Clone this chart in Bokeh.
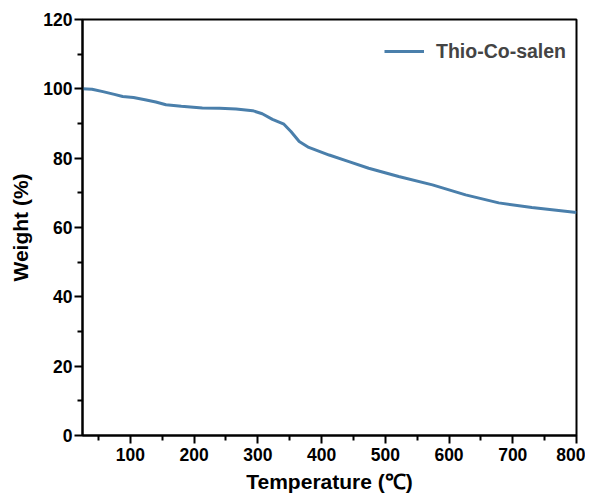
from bokeh.plotting import figure
from bokeh.embed import file_html
from bokeh.resources import INLINE
from bokeh.models import Range1d, FixedTicker, Legend, LegendItem

temperature = [25, 40, 57, 75, 88, 105, 125, 140, 156, 180, 213, 240, 266, 292, 307, 323,
               341, 352, 365, 380, 412, 443, 474, 521, 574, 626, 678, 730, 800]
weight = [100, 99.9, 99.2, 98.4, 97.8, 97.5, 96.8, 96.2, 95.4, 95.0, 94.5, 94.4, 94.2, 93.7, 92.8, 91.2,
          89.8, 87.7, 84.8, 83.1, 80.9, 79.0, 77.1, 74.7, 72.3, 69.4, 67.1, 65.8, 64.3]
series_name = "Thio-Co-salen"
x_ticks = [100, 200, 300, 400, 500, 600, 700, 800]
x_minor = [50, 150, 250, 350, 450, 550, 650, 750]
y_ticks = [0, 20, 40, 60, 80, 100, 120]
y_minor = [10, 30, 50, 70, 90, 110]

FONT = "Liberation Sans"

p = figure(width=585, height=487, output_backend="svg", toolbar_location=None,
           x_range=Range1d(25, 800), y_range=Range1d(0, 120),
           frame_width=494, frame_height=416,
           min_border_left=82, min_border_top=19, min_border_right=9, min_border_bottom=52)
p.background_fill_color = "white"
p.border_fill_color = "white"
p.grid.visible = False
p.outline_line_color = "black"
p.outline_line_width = 2
p.outline_line_alpha = 1.0

line = p.line(temperature, weight, line_color="#4a7fab", line_width=3)

for ax in (p.xaxis[0], p.yaxis[0]):
    ax.axis_line_width = 2
    ax.axis_line_color = "black"
    ax.major_tick_line_width = 2
    ax.minor_tick_line_width = 2
    ax.major_tick_line_color = "black"
    ax.minor_tick_line_color = "black"
    ax.major_tick_out = 8
    ax.major_tick_in = 0
    ax.minor_tick_out = 5
    ax.minor_tick_in = 0
    ax.major_label_text_font = FONT
    ax.major_label_text_font_style = "bold"
    ax.major_label_text_font_size = "17.5px"
    ax.major_label_text_color = "black"
    ax.axis_label_text_font = FONT
    ax.axis_label_text_font_style = "bold"
    ax.axis_label_text_font_size = "21px"
    ax.axis_label_text_color = "black"

p.xaxis[0].ticker = FixedTicker(ticks=x_ticks, minor_ticks=x_minor)
p.yaxis[0].ticker = FixedTicker(ticks=y_ticks, minor_ticks=y_minor)
p.xaxis[0].axis_label = "Temperature (℃)"
p.yaxis[0].axis_label = "Weight (%)"
p.xaxis[0].axis_label_standoff = 6
p.yaxis[0].axis_label_standoff = 8
p.xaxis[0].major_label_standoff = 4
p.yaxis[0].major_label_standoff = 2

legend = Legend(items=[LegendItem(label=series_name, renderers=[line])], location="top_right")
legend.border_line_color = None
legend.background_fill_alpha = 0
legend.label_text_font = FONT
legend.label_text_font_style = "bold"
legend.label_text_font_size = "19.5px"
legend.glyph_width = 40
legend.glyph_height = 44
legend.margin = 10
legend.padding = 0
legend.label_standoff = 12
p.add_layout(legend)

open("out.html", "w").write(file_html(p, INLINE))
